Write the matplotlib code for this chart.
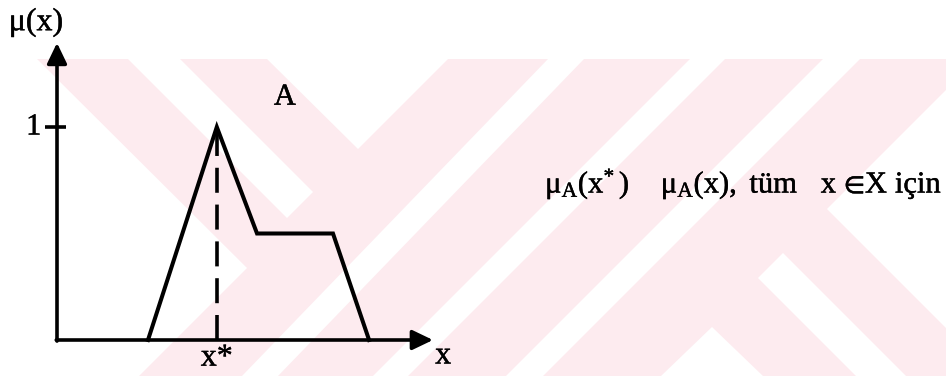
import matplotlib
matplotlib.use("Agg")
import matplotlib.pyplot as plt
from matplotlib.patches import Polygon
import matplotlib.patheffects as pe

plt.rcParams["font.family"] = ["Liberation Serif", "DejaVu Serif"]
plt.rcParams["mathtext.fontset"] = "custom"
plt.rcParams["mathtext.rm"] = "Liberation Serif"
plt.rcParams["mathtext.it"] = "Liberation Serif"
plt.rcParams["lines.scale_dashes"] = False

# Membership function of the fuzzy set A
x_pts = [2.42, 4.25, 5.32, 7.34, 8.30]
mu_pts = [0.0, 1.0, 0.5, 0.5, 0.0]
x_star = 4.25          # point where A reaches its maximum
mu_peak = 1.0
x_axis_end = 10.0      # arrow tips of the axes
mu_axis_end = 1.395
tick_vals = [1]
tick_labels = ["1"]

W, H = 946, 376
fig = plt.figure(figsize=(W / 100, H / 100), dpi=100)
fig.patch.set_facecolor("white")

# light background emblem made of diagonal bands (pixel space, y downwards)
bg_ax = fig.add_axes([0, 0, 1, 1], zorder=0)
bg_ax.set_xlim(0, W)
bg_ax.set_ylim(H, 0)
bg_ax.axis("off")
pink = "#FDEBEF"
band = [(0, 59), (W, 59), (W, H), (0, H)]
gaps = [
    [(0, 59), (37, 59), (247, 268), (139, 376), (0, 376)],
    [(128, 59), (180, 59), (313, 192), (287, 218)],
    [(267, 59), (448, 59), (358, 149)],
    [(548, 59), (584, 59), (278, 376), (242, 376)],
    [(690, 59), (725, 59), (408, 376), (373, 376)],
    [(823, 59), (860, 59), (543, 376), (506, 376)],
    [(827, 209), (946, 90), (946, 328)],
    [(783, 253), (906, 376), (856, 376), (758, 278)],
    [(712, 327), (763, 376), (661, 376)],
]
bg_ax.add_patch(Polygon(band, closed=True, facecolor=pink, edgecolor="none"))
for poly in gaps:
    bg_ax.add_patch(Polygon(poly, closed=True, facecolor="white", edgecolor="none"))

ax = fig.add_axes([0, 0, 1, 1], zorder=1)
ax.patch.set_alpha(0)
sx, sy = 37.6, 213.0   # pixels per data unit
ax.set_xlim(-57 / sx, (W - 57) / sx)
ax.set_ylim(-(H - 340) / sy, 340 / sy)
ax.axis("off")

lw = 2.6
ink = [pe.withStroke(linewidth=0.3, foreground="black")]
fs = 22

# axes with arrow heads
arrow = dict(arrowstyle="-|>,head_length=1.25,head_width=0.6", lw=lw,
             color="black", shrinkA=0, shrinkB=0)
ax.annotate("", xy=(x_axis_end, 0), xytext=(-0.02, 0), arrowprops=arrow)
ax.annotate("", xy=(0, mu_axis_end), xytext=(0, -0.005), arrowprops=arrow)

# tick at mu = 1
for v, lab in zip(tick_vals, tick_labels):
    ax.plot([-0.32, 0.24], [v, v], color="black", lw=lw, solid_capstyle="butt")
    ax.text(-0.62, v, lab, ha="center", va="center", fontsize=fs,
            path_effects=ink)

# membership curve
ax.plot(x_pts, mu_pts, color="black", lw=lw + 0.3, solid_joinstyle="miter")

# dashed line at x*
ax.plot([x_star, x_star], [0, mu_peak], color="black", lw=lw,
        dashes=(18, 8.5), dash_capstyle="butt")

ax.text(-0.56, 1.49, "μ(x)", ha="center", va="center", fontsize=fs + 1,
        path_effects=ink)
ax.text(6.06, 1.14, "A", ha="center", va="center", fontsize=fs,
        path_effects=ink)
ax.text(x_star, -0.085, "x*", ha="center", va="center", fontsize=fs + 1,
        path_effects=ink)
ax.text(10.27, -0.075, "x", ha="center", va="center", fontsize=fs + 1,
        path_effects=ink)

ax.text(12.98, 0.735,
        r"$\mathrm{μ_{A}(x^{*}\,)\ \ \ \ μ_{A}(x),\ tüm\ \ \ x\ ∈X\ için}$",
        ha="left", va="center", fontsize=fs, path_effects=ink)

fig.savefig("out.png", dpi=100, facecolor="white")
